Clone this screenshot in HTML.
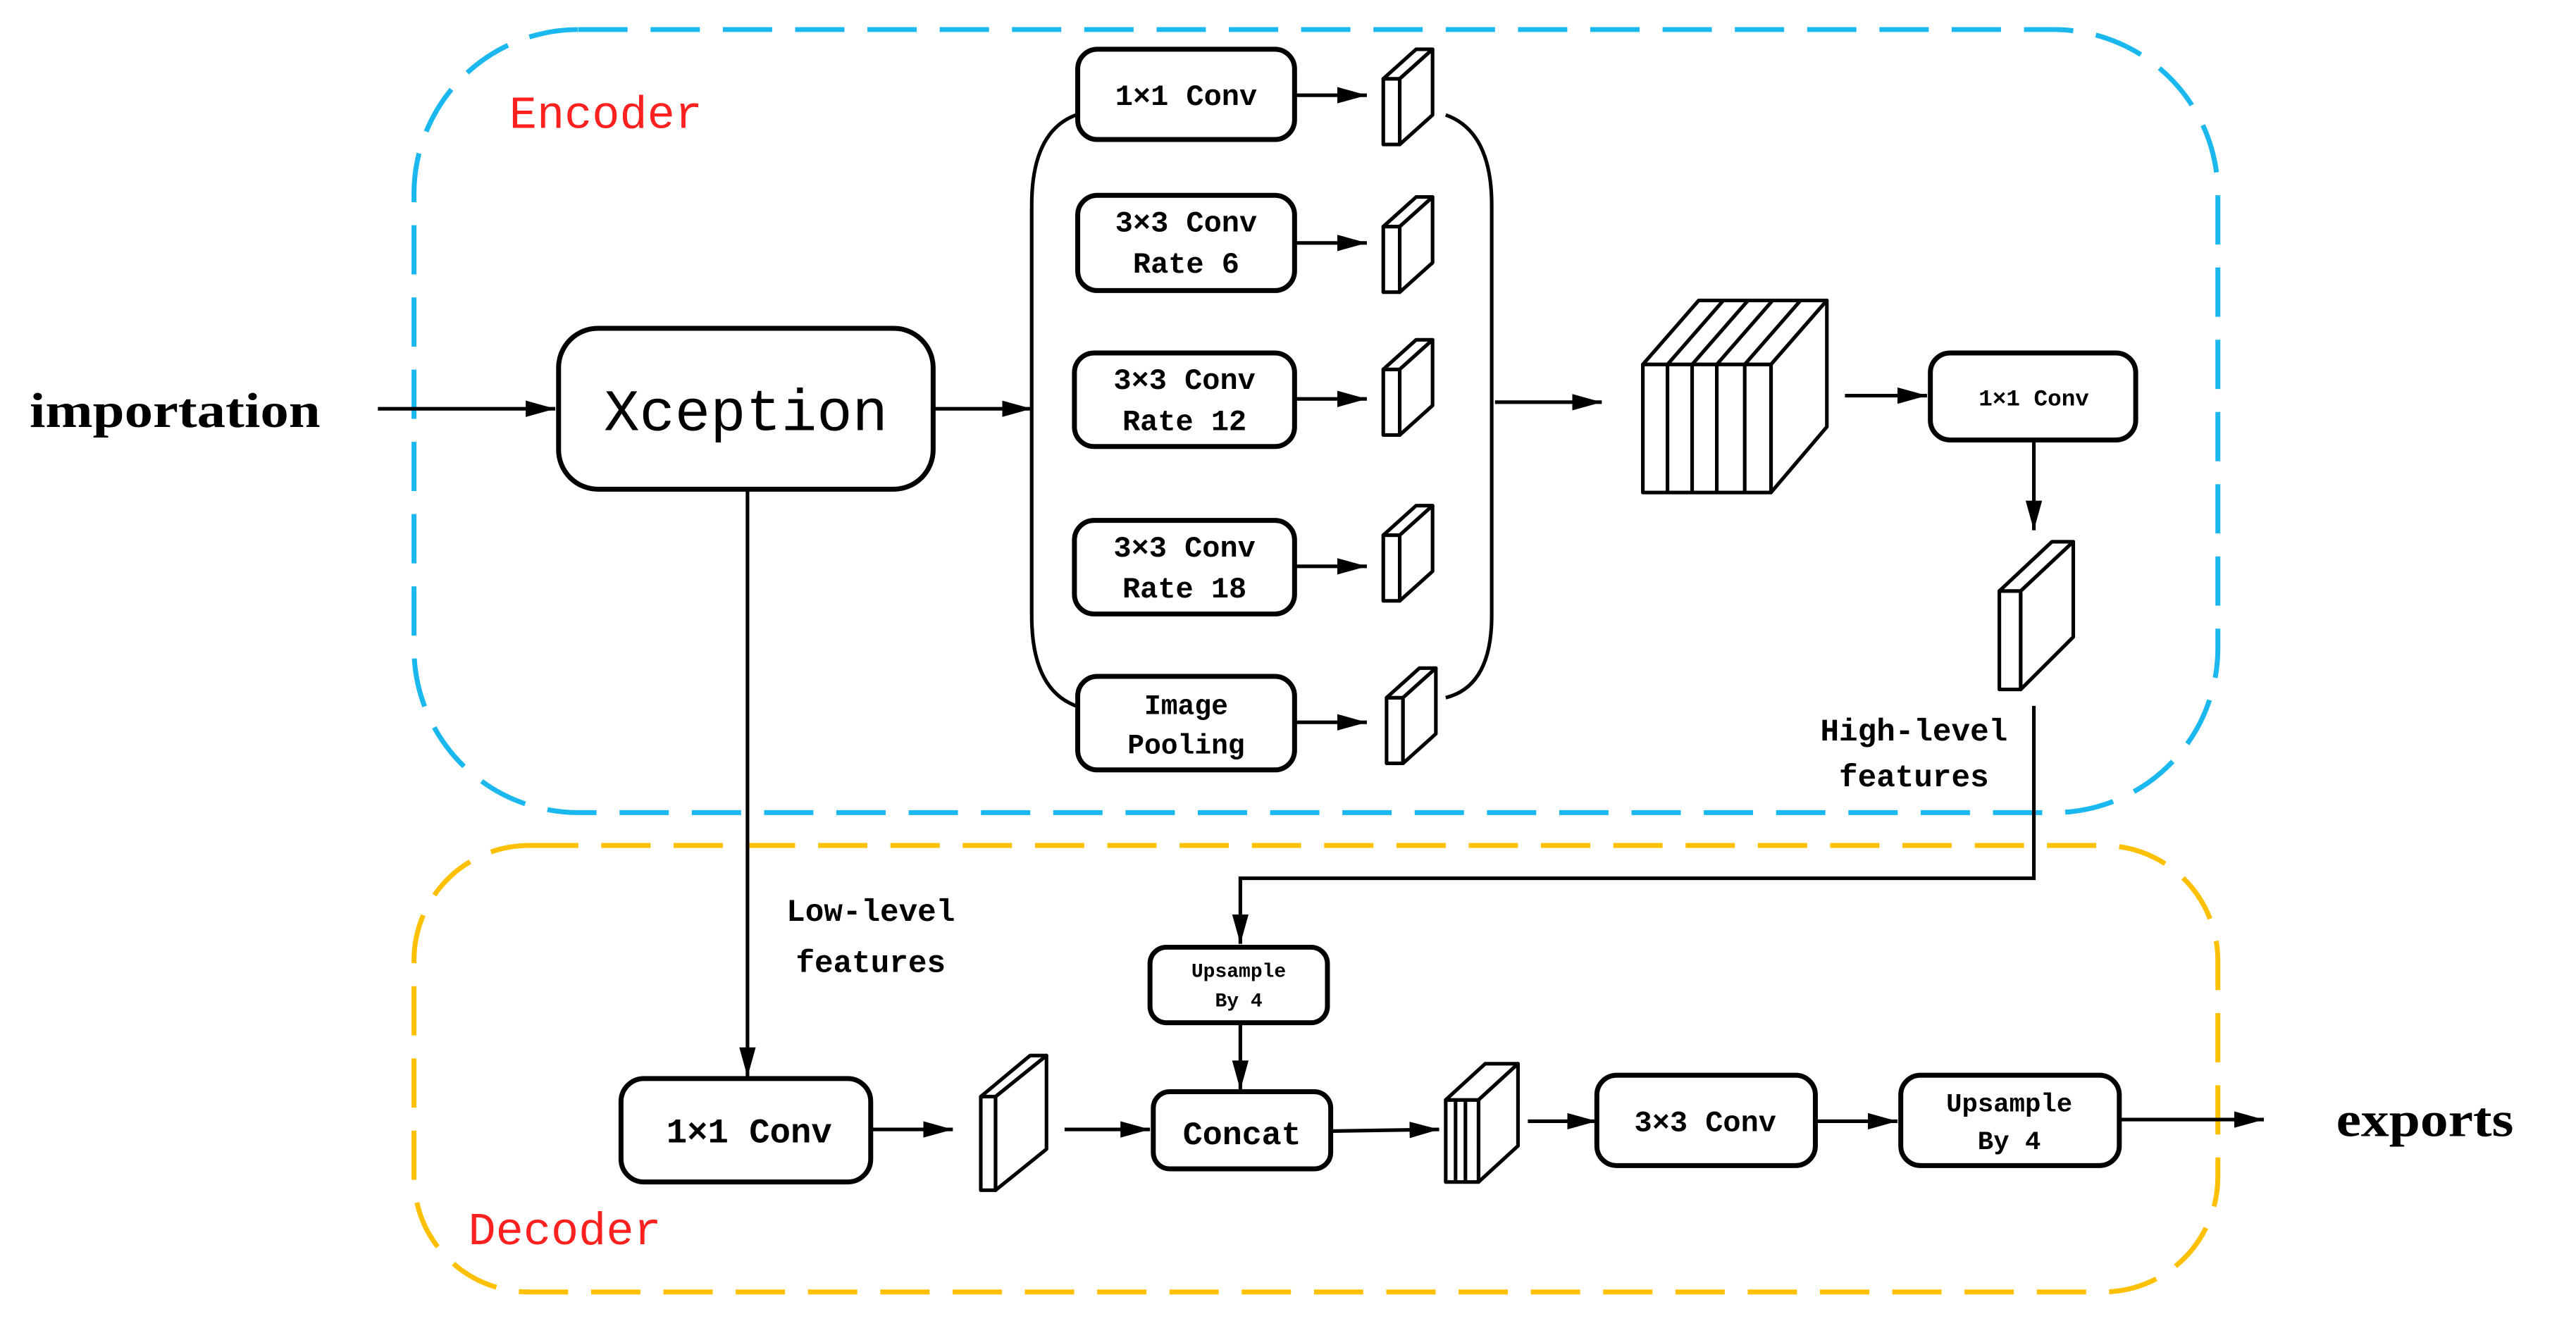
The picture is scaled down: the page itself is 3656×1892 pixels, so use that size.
<!DOCTYPE html>
<html><head><meta charset="utf-8"><style>
html,body{margin:0;padding:0;background:#fff;}
svg{display:block;}
.b{fill:#fff;stroke:#000;stroke-width:3;}
.l{stroke:#000;stroke-width:2.2;fill:none;}
.c{fill:#fff;stroke:#000;stroke-width:2.2;stroke-linejoin:round;}
.t{font-family:"Liberation Mono",monospace;font-weight:bold;fill:#000;text-anchor:middle;}
.s{font-family:"Liberation Serif",serif;font-weight:bold;fill:#000;}
</style></head><body>
<svg width="3656" height="1892" viewBox="0 0 1568 812" preserveAspectRatio="none" xmlns="http://www.w3.org/2000/svg">
<defs>
<marker id="m" viewBox="0 0 18 10" refX="18" refY="5" markerWidth="18" markerHeight="10" markerUnits="userSpaceOnUse" orient="auto"><path d="M0,0 L18,5 L0,10 z" fill="#000"/></marker>
</defs>
<rect x="252" y="18" width="1098" height="477" rx="100" fill="none" stroke="#1ab8ee" stroke-width="3" stroke-dasharray="30 14"/>
<rect x="252" y="515" width="1098" height="272" rx="70" fill="none" stroke="#ffc000" stroke-width="3" stroke-dasharray="30 14"/>
<text x="310" y="78" font-family="Liberation Mono,monospace" font-size="28" fill="#ff2020">Encoder</text>
<text x="285" y="758" font-family="Liberation Mono,monospace" font-size="28" fill="#ff2020">Decoder</text>
<text x="18" y="260" class="s" font-size="30" textLength="177" lengthAdjust="spacingAndGlyphs">importation</text>
<text x="1422" y="692" class="s" font-size="30" textLength="108" lengthAdjust="spacingAndGlyphs">exports</text>

<line class="l" x1="230" y1="249" x2="338" y2="249" marker-end="url(#m)"/>
<rect class="b" x="340" y="200" width="228" height="98" rx="24"/>
<text class="t" x="454" y="262" font-size="36" style="font-weight:normal">Xception</text>
<line class="l" x1="568" y1="249" x2="628" y2="249" marker-end="url(#m)"/>

<path class="l" d="M655,70 Q628,80 628,125 L628,375 Q628,420 655,430"/>
<path class="l" d="M880,70 Q908,80 908,125 L908,375 Q908,418 880,425"/>

<rect class="b" x="656" y="30" width="132" height="55" rx="12"/>
<text class="t" x="722" y="64" font-size="18">1×1 Conv</text>
<rect class="b" x="656" y="119" width="132" height="58" rx="12"/>
<text class="t" x="722" y="141" font-size="18">3×3 Conv</text><text class="t" x="722" y="166" font-size="18">Rate 6</text>
<rect class="b" x="654" y="215" width="134" height="57" rx="12"/>
<text class="t" x="721" y="237" font-size="18">3×3 Conv</text><text class="t" x="721" y="262" font-size="18">Rate 12</text>
<rect class="b" x="654" y="317" width="134" height="57" rx="12"/>
<text class="t" x="721" y="339" font-size="18">3×3 Conv</text><text class="t" x="721" y="364" font-size="18">Rate 18</text>
<rect class="b" x="656" y="412" width="132" height="57" rx="12"/>
<text class="t" x="722" y="435" font-size="17">Image</text><text class="t" x="722" y="459" font-size="17">Pooling</text>

<g class="l">
<line x1="788" y1="58" x2="832" y2="58" marker-end="url(#m)"/>
<line x1="788" y1="148" x2="832" y2="148" marker-end="url(#m)"/>
<line x1="788" y1="243" x2="832" y2="243" marker-end="url(#m)"/>
<line x1="788" y1="345" x2="832" y2="345" marker-end="url(#m)"/>
<line x1="788" y1="440" x2="832" y2="440" marker-end="url(#m)"/>
</g>

<g class="c">
<g><polygon points="842,48 852,48 852,88 842,88"/><polygon points="842,48 862,30 872,30 852,48"/><polygon points="852,48 872,30 872,70 852,88"/></g>
<g transform="translate(0,90)"><polygon points="842,48 852,48 852,88 842,88"/><polygon points="842,48 862,30 872,30 852,48"/><polygon points="852,48 872,30 872,70 852,88"/></g>
<g transform="translate(0,177)"><polygon points="842,48 852,48 852,88 842,88"/><polygon points="842,48 862,30 872,30 852,48"/><polygon points="852,48 872,30 872,70 852,88"/></g>
<g transform="translate(0,278)"><polygon points="842,48 852,48 852,88 842,88"/><polygon points="842,48 862,30 872,30 852,48"/><polygon points="852,48 872,30 872,70 852,88"/></g>
<g transform="translate(2,377)"><polygon points="842,48 852,48 852,88 842,88"/><polygon points="842,48 862,30 872,30 852,48"/><polygon points="852,48 872,30 872,70 852,88"/></g>
</g>

<line class="l" x1="910" y1="245" x2="975" y2="245" marker-end="url(#m)"/>

<g class="c">
<polygon points="1000,222 1034,183 1112,183 1078,222"/>
<polygon points="1078,222 1112,183 1112,260 1078,300"/>
<rect x="1000" y="222" width="78" height="78"/>
</g>
<g class="l">
<line x1="1015" y1="222" x2="1015" y2="300"/><line x1="1030" y1="222" x2="1030" y2="300"/><line x1="1045" y1="222" x2="1045" y2="300"/><line x1="1062" y1="222" x2="1062" y2="300"/>
<line x1="1015" y1="222" x2="1049" y2="183"/><line x1="1030" y1="222" x2="1064" y2="183"/><line x1="1045" y1="222" x2="1079" y2="183"/><line x1="1062" y1="222" x2="1096" y2="183"/>
</g>

<line class="l" x1="1123" y1="241" x2="1173" y2="241" marker-end="url(#m)"/>
<rect class="b" x="1175" y="215" width="125" height="53" rx="12"/>
<text class="t" x="1238" y="247" font-size="14">1×1 Conv</text>
<line class="l" x1="1238" y1="268" x2="1238" y2="323" marker-end="url(#m)"/>

<g class="c">
<polygon points="1217,360 1230,360 1230,420 1217,420"/>
<polygon points="1217,360 1249,330 1262,330 1230,360"/>
<polygon points="1230,360 1262,330 1262,388 1230,420"/>
</g>
<text class="t" x="1165" y="451" font-size="19">High-level</text>
<text class="t" x="1165" y="479" font-size="19">features</text>
<path class="l" d="M1238,430 L1238,535 L755,535 L755,575" marker-end="url(#m)"/>

<rect class="b" x="700" y="577" width="108" height="46" rx="10"/>
<text class="t" x="754" y="595" font-size="12">Upsample</text>
<text class="t" x="754" y="613" font-size="12">By 4</text>
<line class="l" x1="755" y1="623" x2="755" y2="664" marker-end="url(#m)"/>

<line class="l" x1="455" y1="298" x2="455" y2="656" marker-end="url(#m)"/>
<text class="t" x="530" y="561" font-size="19">Low-level</text>
<text class="t" x="530" y="592" font-size="19">features</text>
<rect class="b" x="378" y="657" width="152" height="63" rx="14"/>
<text class="t" x="456" y="696" font-size="21">1×1 Conv</text>
<line class="l" x1="530" y1="688" x2="580" y2="688" marker-end="url(#m)"/>
<g class="c">
<polygon points="597,668 606,668 606,725 597,725"/>
<polygon points="597,668 627,643 637,643 606,668"/>
<polygon points="606,668 637,643 637,700 606,725"/>
</g>
<line class="l" x1="648" y1="688" x2="700" y2="688" marker-end="url(#m)"/>
<rect class="b" x="702" y="665" width="108" height="47" rx="10"/>
<text class="t" x="756" y="697" font-size="20">Concat</text>
<line class="l" x1="810" y1="689" x2="876" y2="688" marker-end="url(#m)"/>
<g class="c">
<polygon points="880,670 900,670 900,720 880,720"/>
<line x1="886" y1="670" x2="886" y2="720"/><line x1="892" y1="670" x2="892" y2="720"/>
<polygon points="880,670 904,648 924,648 900,670"/>
<polygon points="900,670 924,648 924,698 900,720"/>
</g>
<line class="l" x1="930" y1="683" x2="972" y2="683" marker-end="url(#m)"/>
<rect class="b" x="972" y="655" width="133" height="55" rx="12"/>
<text class="t" x="1038" y="689" font-size="18">3×3 Conv</text>
<line class="l" x1="1105" y1="683" x2="1155" y2="683" marker-end="url(#m)"/>
<rect class="b" x="1157" y="655" width="133" height="55" rx="12"/>
<text class="t" x="1223" y="677" font-size="16">Upsample</text>
<text class="t" x="1223" y="700" font-size="16">By 4</text>
<line class="l" x1="1290" y1="682" x2="1378" y2="682" marker-end="url(#m)"/>
</svg>
</body></html>
